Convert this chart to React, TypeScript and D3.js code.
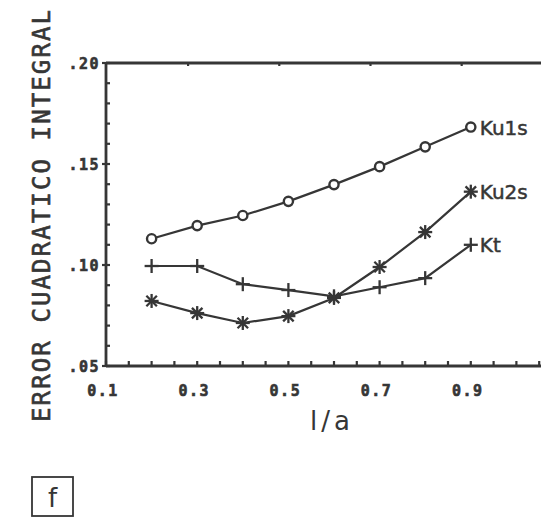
import React from "react";
import * as d3 from "d3";

const xValues = [0.2, 0.3, 0.4, 0.5, 0.6, 0.7, 0.8, 0.9];
const ku1s = [0.113, 0.1195, 0.1245, 0.1315, 0.1398, 0.1487, 0.1585, 0.1683];
const kt = [0.0995, 0.0995, 0.0905, 0.0876, 0.0845, 0.089, 0.0935, 0.11];
const ku2s = [0.0822, 0.0762, 0.0713, 0.0747, 0.0837, 0.099, 0.1163, 0.1363];
const seriesNames = ["Ku1s", "Ku2s", "Kt"];
const xTickLabels = [0.1, 0.3, 0.5, 0.7, 0.9];
const yTickLabels = [0.05, 0.1, 0.15, 0.2];
const topTicks = [0.28, 0.48, 0.68, 0.88];

const W = 541;
const H = 517;
const ink = "#363636";

export default function App() {
  const x = d3.scaleLinear().domain([0.1, 1.1]).range([106, 562]);
  const y = d3.scaleLinear().domain([0.05, 0.2]).range([366, 63]);
  const line = d3
    .line<number>()
    .x((_, i) => x(xValues[i]))
    .y((d) => y(d));

  const xMinor = d3.range(0.1, 1.1001, 0.05);
  const yMinor = d3.range(0.05, 0.2001, 0.01);
  const fmtY = (v: number) => d3.format(".2f")(v).replace(/^0/, "");

  const series = [
    { name: seriesNames[0], data: ku1s, marker: "circle" },
    { name: seriesNames[1], data: ku2s, marker: "star" },
    { name: seriesNames[2], data: kt, marker: "plus" },
  ];

  const marker = (type: string, cx: number, cy: number, key: string) => {
    if (type === "circle")
      return <circle key={key} cx={cx} cy={cy} r={4.6} fill="#fff" stroke={ink} strokeWidth={2.4} />;
    if (type === "plus")
      return (
        <g key={key} stroke={ink} strokeWidth={2.3}>
          <line x1={cx - 7} x2={cx + 7} y1={cy} y2={cy} />
          <line x1={cx} x2={cx} y1={cy - 7} y2={cy + 7} />
        </g>
      );
    const r = 7;
    return (
      <g key={key} stroke={ink} strokeWidth={2.3}>
        <line x1={cx} x2={cx} y1={cy - r} y2={cy + r} />
        <line x1={cx - r} x2={cx + r} y1={cy} y2={cy} />
        <line x1={cx - r * 0.75} x2={cx + r * 0.75} y1={cy - r * 0.75} y2={cy + r * 0.75} />
        <line x1={cx - r * 0.75} x2={cx + r * 0.75} y1={cy + r * 0.75} y2={cy - r * 0.75} />
      </g>
    );
  };

  const x0 = x(0.1);
  const yTop = y(0.2);
  const yBot = y(0.05);

  return (
    <svg
      width={W}
      height={H}
      style={{ position: "absolute", left: 0, top: 0, background: "#fff" }}
    >
      <g stroke={ink} strokeWidth={2.8} fill="none">
        <line x1={x0} x2={x0} y1={yTop} y2={yBot} />
        <line x1={x0} x2={W + 10} y1={yBot} y2={yBot} />
        <line x1={x0} x2={W + 10} y1={yTop} y2={yTop} />
      </g>
      <g stroke={ink} strokeWidth={2.2}>
        {yMinor.map((v, i) => (
          <line key={i} x1={x0 - (i % 5 === 0 ? 4 : 0)} x2={x0 + 4} y1={y(v)} y2={y(v)} />
        ))}
        {xMinor.map((v, i) => (
          <line key={"x" + i} x1={x(v)} x2={x(v)} y1={yBot} y2={yBot - 5} />
        ))}
        {topTicks.map((v, i) => (
          <line key={"t" + i} x1={x(v)} x2={x(v)} y1={yTop} y2={yTop + 3} />
        ))}
      </g>
      <g
        fontFamily="'DejaVu Sans Mono', monospace"
        fontWeight="bold"
        fontSize={15}
        fill={ink}
        stroke={ink}
        strokeWidth={0.6}
        letterSpacing={1.5}
      >
        {yTickLabels.map((v, i) => (
          <text key={i} x={100} y={y(v) + 5.5} textAnchor="end">
            {fmtY(v)}
          </text>
        ))}
        {xTickLabels.map((v, i) => (
          <text key={"x" + i} x={x(v) - 3} y={396} textAnchor="middle">
            {d3.format(".1f")(v)}
          </text>
        ))}
      </g>
      {series.map((s) => (
        <path key={s.name} d={line(s.data) || ""} fill="none" stroke={ink} strokeWidth={2.2} />
      ))}
      {series.map((s) =>
        s.data.map((v, i) => marker(s.marker, x(xValues[i]), y(v), s.name + i))
      )}
      <g fontFamily="'DejaVu Sans', sans-serif" fontSize={20} fill={ink} stroke={ink} strokeWidth={0.5}>
        {series.map((s) => (
          <text
            key={s.name}
            x={x(xValues[xValues.length - 1]) + 9}
            y={y(s.data[s.data.length - 1]) + 7.5}
          >
            {s.name}
          </text>
        ))}
      </g>
      <text
        transform={`translate(50, 216) rotate(-90)`}
        textAnchor="middle"
        fontFamily="'DejaVu Sans Mono', monospace"
        fontSize={24}
        fill={ink}
        stroke={ink}
        strokeWidth={0.6}
        textLength={412}
        lengthAdjust="spacing"
      >
        ERROR CUADRATICO INTEGRAL
      </text>
      <text
        x={332}
        y={430}
        textAnchor="middle"
        fontFamily="'DejaVu Sans', sans-serif"
        fontSize={26}
        fill={ink}
        letterSpacing={4}
      >
        l/a
      </text>
      <rect x={32} y={477} width={41} height={39} fill="none" stroke={ink} strokeWidth={1.8} />
      <text
        x={52.5}
        y={507}
        textAnchor="middle"
        fontFamily="'DejaVu Sans', sans-serif"
        fontSize={26}
        fill={ink}
      >
        f
      </text>
    </svg>
  );
}
